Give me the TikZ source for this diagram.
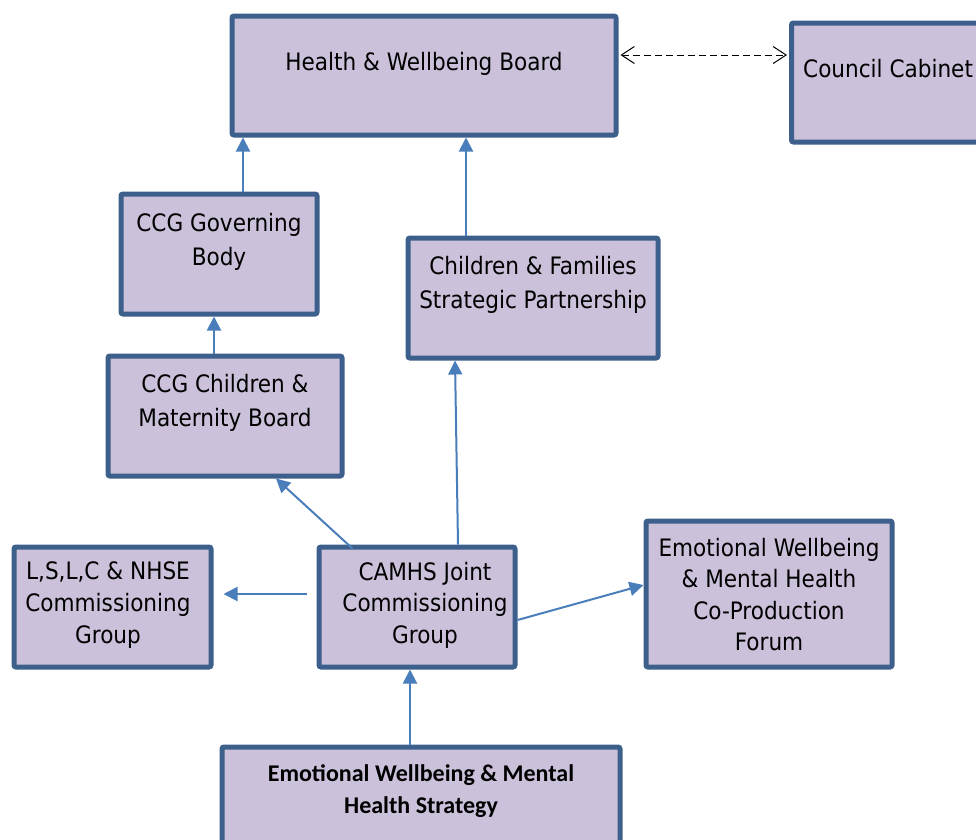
\documentclass[tikz,border=0pt]{standalone}
\usepackage{fontspec}
\setmainfont{DejaVu Sans Condensed}
\newfontfamily\boldcal{Carlito}
\usetikzlibrary{arrows.meta,calc}
\definecolor{boxfill}{HTML}{CBC1DA}
\definecolor{boxline}{HTML}{3C5F8C}
\definecolor{arrblue}{HTML}{4A7EBB}
\tikzset{
  box/.style={draw=boxline, fill=boxfill, line width=5pt, rounded corners=2pt, inner sep=0pt},
  txt/.style={font=\fontsize{24}{34}\selectfont, align=center, inner sep=0pt, text=black},
  txtb/.style={font=\fontsize{24}{31.6}\selectfont, align=center, inner sep=0pt, text=black},
  btxt/.style={font=\boldcal\bfseries\fontsize{24}{32}\selectfont, align=center, inner sep=0pt, text=black},
  arr/.style={draw=arrblue, line width=2pt, -{Triangle[length=14pt,width=14pt]}},
  dbl/.style={draw=black, line width=1pt, dash pattern=on 7pt off 4pt, {Straight Barb[length=13pt,width=17pt]}-{Straight Barb[length=13pt,width=17pt]}}
}
\begin{document}
\begin{tikzpicture}[x=1pt,y=-1pt]
\useasboundingbox (0,0) rectangle (976,839);
\clip (0,0) rectangle (976,839);
% boxes
\node[box, minimum width=384pt, minimum height=119pt] (hwb) at (424,75.5) {};
\node[box, minimum width=190pt, minimum height=119pt] (cc) at (886.5,82.5) {};
\node[box, minimum width=196pt, minimum height=120pt] (ccggov) at (219,254) {};
\node[box, minimum width=250pt, minimum height=120pt] (cfsp) at (533,298) {};
\node[box, minimum width=234pt, minimum height=120pt] (ccgcm) at (225,416) {};
\node[box, minimum width=197pt, minimum height=120pt] (lslc) at (112.5,607) {};
\node[box, minimum width=196pt, minimum height=120pt] (camhs) at (417,607) {};
\node[box, minimum width=246pt, minimum height=146pt] (forum) at (769,594) {};
\node[box, minimum width=398pt, minimum height=110pt] (strat) at (421,802) {};
% texts
\node[txt] (hwbt) at (424,64) {Health \& Wellbeing Board};
\node[txt, anchor=west] (cct) at (803,69) {Council Cabinet};
\node[txt] (ccggovt) at (219,241.5) {CCG Governing\\Body};
\node[txt] (cfspt) at (533,285) {Children \& Families\\Strategic Partnership};
\node[txt] (ccgcmt) at (225,403) {CCG Children \&\\Maternity Board};
\node[txtb] (lslct) at (108,605) {L,S,L,C \& NHSE\\Commissioning\\Group};
\node[txtb] (camhst) at (425,605) {CAMHS Joint\\Commissioning\\Group};
\node[txtb] (forumt) at (769,594.5) {Emotional Wellbeing\\\& Mental Health\\Co-Production\\Forum};
\node[btxt] (stratt) at (421,791) {Emotional Wellbeing \& Mental\\Health Strategy};
% connectors
\draw[arr] (ccggov.north -| 243,0) -- (hwb.south -| 243,0);
\draw[arr] (cfsp.north -| 466,0) -- (hwb.south -| 466,0);
\draw[arr] (ccgcm.north -| 214,0) -- (ccggov.south -| 214,0);
\draw[arr] ([xshift=36pt,yshift=-4pt]camhs.north west) -- (ccgcm.south -| 276,0);
\draw[arr] ([xshift=-10pt]camhs.west |- 0,594) -- ([xshift=10pt]lslc.east |- 0,594);
\draw[arr] (camhs.north -| 458,0) -- (cfsp.south -| 455,0);
\draw[arr] (camhs.east |- 0,620) -- (forum.west |- 0,585);
\draw[arr] (strat.north -| 410,0) -- (camhs.south -| 410,0);
\draw[dbl] ([xshift=2pt]hwb.east |- 0,55) -- ([xshift=-2pt]cc.west |- 0,55);
\end{tikzpicture}
\end{document}
